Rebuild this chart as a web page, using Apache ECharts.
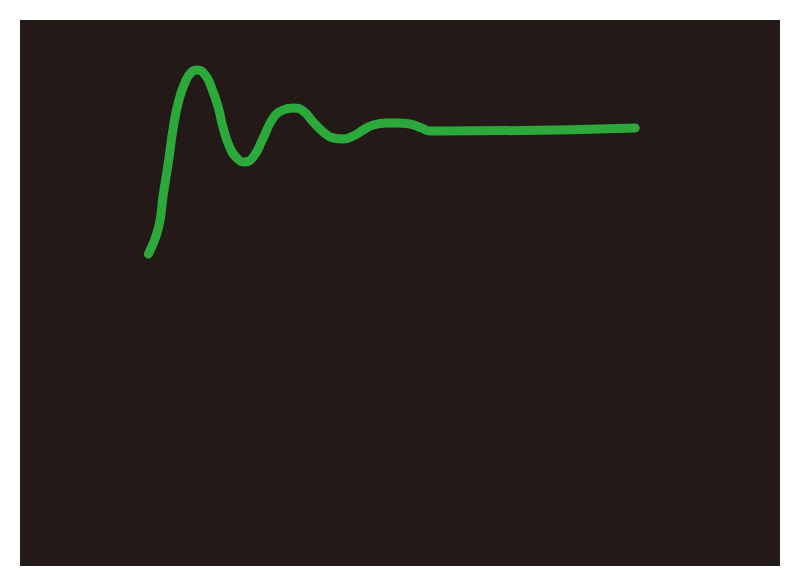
<!DOCTYPE html>
<html>
	<head>
		<meta charset="utf-8">
		<title>step response</title>
		<style>
			html, body {
				width: 100%;
				height: 100%;
				margin: 0;
				padding: 0;
				background: #ffffff;
			}
			#main {
				width: 800px;
				height: 588px;
			}
		</style>
	</head>
	<body>
		<div id="main"></div>
		<script src="https://cdn.jsdelivr.net/npm/echarts@6/dist/echarts.min.js"></script>
		<script>
			// time (arbitrary units) and response
			var times = [3.21, 3.46, 3.58, 3.71, 3.83, 3.96, 4.13, 4.29, 4.43, 4.63, 4.79, 4.96, 5.08, 5.25, 5.42, 5.60, 5.83,
				6.08, 6.33, 6.58, 6.83, 7.08, 7.33, 7.58, 7.83, 8.08, 8.33, 8.58, 8.83, 9.17, 9.42, 9.75, 10.04, 10.25, 10.5, 15.38];
			var response = [3.12, 3.38, 3.71, 4.04, 4.38, 4.64, 4.84, 4.94, 4.96, 4.91, 4.78, 4.58, 4.38, 4.18, 4.08, 4.04, 4.09,
				4.28, 4.48, 4.56, 4.58, 4.55, 4.44, 4.34, 4.28, 4.27, 4.30, 4.36, 4.41, 4.43, 4.43, 4.42, 4.38, 4.35, 4.35, 4.38];

			var points = [];
			for (var i = 0; i < times.length; i++) {
				points.push([times[i], response[i]]);
			}

			var chart = echarts.init(document.getElementById('main'), null, {renderer: 'svg'});
			chart.setOption({
				backgroundColor: '#ffffff',
				animation: false,
				grid: {
					left: 20,
					right: 20,
					top: 20,
					bottom: 22,
					show: true,
					backgroundColor: '#231916',
					borderWidth: 0
				},
				xAxis: {
					type: 'value',
					min: 0,
					max: 19,
					show: false
				},
				yAxis: {
					type: 'value',
					min: 0,
					max: 5.46,
					show: false
				},
				series: [{
					type: 'line',
					data: points,
					smooth: 0.5,
					showSymbol: false,
					lineStyle: {
						color: '#2baa3b',
						width: 9,
						cap: 'round',
						join: 'round'
					}
				}]
			});
		</script>
	</body>
</html>
